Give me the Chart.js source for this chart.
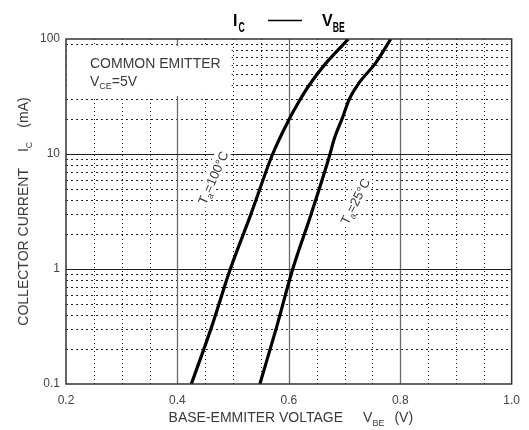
<!DOCTYPE html>
<html>
<head>
<meta charset="utf-8">
<script src="https://cdn.jsdelivr.net/npm/chart.js@4.4.1/dist/chart.umd.min.js"></script>
<style>
  html, body { margin: 0; padding: 0; background: #fff; }
  canvas { display: block; }
</style>
</head>
<body>
<canvas id="icVbe" width="529" height="430"></canvas>
<script>
// Axis ticks
const xTickValues = [0.2, 0.4, 0.6, 0.8, 1.0];
const yTickValues = [0.1, 1, 10, 100];

// Ta = 100°C curve (VBE in V, IC in mA)
const vbeHot = [0.425, 0.460, 0.495, 0.532, 0.571, 0.600, 0.618, 0.637, 0.667, 0.707];
const icHot  = [0.1,   0.3,   1,     3,     10,    19.8,  28.5,  40,    62,    100];

// Ta = 25°C curve
const vbeRoom = [0.548, 0.577, 0.607, 0.640, 0.674, 0.681, 0.697, 0.708, 0.726, 0.756, 0.783];
const icRoom  = [0.1,   0.3,   1,     3,     10,    13.3,  21.1,  29.6,  41.5,  62,    100];

const FONT = '"Liberation Sans", Arial, sans-serif';
const TEXT = '#3a3a3a';

function toPoints(xs, ys){
  return xs.map((v, i) => ({ x: v, y: ys[i] }));
}

// draw a row of text pieces (for subscripts), returns end x
function drawRuns(ctx, runs, x, y){
  let cx = x;
  for (const r of runs){
    ctx.save();
    ctx.font = `${r.bold ? 'bold ' : ''}${r.size}px ${FONT}`;
    const sx = r.sx || 1;
    ctx.translate(cx, y + (r.dy || 0));
    ctx.scale(sx, 1);
    ctx.fillText(r.t, 0, 0);
    cx += ctx.measureText(r.t).width * sx + (r.gap || 0);
    ctx.restore();
  }
  return cx;
}

function runsWidth(ctx, runs){
  let w = 0;
  for (const r of runs){
    ctx.font = `${r.bold ? 'bold ' : ''}${r.size}px ${FONT}`;
    w += ctx.measureText(r.t).width * (r.sx || 1) + (r.gap || 0);
  }
  return w;
}

function hLine(ctx, x1, x2, y){
  ctx.beginPath(); ctx.moveTo(x1, y); ctx.lineTo(x2, y); ctx.stroke();
}
function vLine(ctx, x, y1, y2){
  ctx.beginPath(); ctx.moveTo(x, y1); ctx.lineTo(x, y2); ctx.stroke();
}

const paperGrid = {
  id: 'paperGrid',
  beforeDatasetsDraw(chart){
    const { ctx, chartArea: a, scales: { x, y } } = chart;
    ctx.save();
    ctx.lineWidth = 1;

    // minor verticals every 0.05 V
    ctx.strokeStyle = '#222';
    ctx.setLineDash([1, 3]);
    for (let i = 1; i < 16; i++){
      if (i % 4 === 0) continue;
      const px = Math.round(x.getPixelForValue(0.2 + i * 0.05)) + 0.5;
      vLine(ctx, px, a.top, a.bottom);
    }

    // minor horizontals 2..9 in each decade
    ctx.setLineDash([2, 3]);
    yTickValues.slice(0, -1).forEach(d => {
      for (let m = 2; m <= 9; m++){
        const py = Math.round(y.getPixelForValue(d * m)) + 0.5;
        hLine(ctx, a.left, a.right, py);
      }
    });

    // major lines
    ctx.setLineDash([]);
    ctx.strokeStyle = '#6a6a6a';
    ctx.lineWidth = 1.3;
    xTickValues.slice(1, -1).forEach(v => {
      const px = Math.round(x.getPixelForValue(v)) + 0.5;
      vLine(ctx, px, a.top, a.bottom);
    });
    ctx.strokeStyle = '#222';
    ctx.lineWidth = 1;
    yTickValues.slice(1, -1).forEach(v => {
      const py = Math.round(y.getPixelForValue(v)) + 0.5;
      hLine(ctx, a.left, a.right, py);
    });

    // blank patch behind the conditions note
    ctx.fillStyle = '#fff';
    const bx1 = a.left + 1, bx2 = x.getPixelForValue(0.5) - 1.5;
    const by1 = y.getPixelForValue(87), by2 = y.getPixelForValue(32);
    ctx.fillRect(bx1, by1, bx2 - bx1, by2 - by1);
    ctx.restore();
  },
  afterDraw(chart){
    const { ctx, chartArea: a, scales: { x, y } } = chart;
    ctx.save();

    // frame
    ctx.strokeStyle = '#333';
    ctx.lineWidth = 1.5;
    ctx.strokeRect(a.left, a.top, a.right - a.left, a.bottom - a.top);

    ctx.fillStyle = TEXT;
    ctx.textBaseline = 'alphabetic';

    // conditions note
    drawRuns(ctx, [{ t: 'COMMON EMITTER', size: 14 }], 90, 68);
    drawRuns(ctx, [
      { t: 'V', size: 14 },
      { t: 'CE', size: 9, dy: 3 },
      { t: '=5V', size: 14 }
    ], 90, 86);

    // curve labels, rotated
    const curveLabel = (temp, vx, vy, deg) => {
      const runs = [
        { t: 'T', size: 13 },
        { t: 'a', size: 9, dy: 3 },
        { t: '=' + temp + '°C', size: 13 }
      ];
      const w = runsWidth(ctx, runs);
      ctx.save();
      ctx.translate(x.getPixelForValue(vx), y.getPixelForValue(vy));
      ctx.rotate(deg * Math.PI / 180);
      ctx.fillStyle = '#fff';
      ctx.fillRect(-w / 2 - 2, -9, w + 4, 15);
      ctx.fillStyle = TEXT;
      drawRuns(ctx, runs, -w / 2, 4);
      ctx.restore();
    };
    curveLabel('100', 0.465, 6.2, -66);
    curveLabel('25', 0.720, 3.85, -63);

    // title  I_C —— V_BE
    ctx.fillStyle = '#000';
    drawRuns(ctx, [
      { t: 'I', size: 16, bold: true, gap: 1 },
      { t: 'C', size: 14, bold: true, sx: 0.62, dy: 6 }
    ], 233, 26);
    ctx.strokeStyle = '#000';
    ctx.lineWidth = 1.5;
    hLine(ctx, 268, 302, 20.5);
    drawRuns(ctx, [
      { t: 'V', size: 16, bold: true },
      { t: 'BE', size: 14, bold: true, sx: 0.62, dy: 6 }
    ], 322, 26);

    // x axis title
    ctx.fillStyle = TEXT;
    const xRuns = [
      { t: 'BASE-EMMITER VOLTAGE', size: 14, gap: 20 },
      { t: 'V', size: 14 },
      { t: 'BE', size: 9, dy: 4, gap: 10 },
      { t: '(V)', size: 14 }
    ];
    const xw = runsWidth(ctx, xRuns);
    drawRuns(ctx, xRuns, (a.left + a.right) / 2 - xw / 2 + 2, 422);

    // y axis title
    const yRuns = [
      { t: 'COLLECTOR CURRENT', size: 14, gap: 16 },
      { t: 'I', size: 14 },
      { t: 'C', size: 9, dy: 4, gap: 14 },
      { t: '(mA)', size: 14 }
    ];
    const yw = runsWidth(ctx, yRuns);
    ctx.save();
    ctx.translate(28, (a.top + a.bottom) / 2);
    ctx.rotate(-Math.PI / 2);
    drawRuns(ctx, yRuns, -yw / 2, 0);
    ctx.restore();

    ctx.restore();
  }
};

const curveStyle = {
  showLine: true,
  borderColor: '#000',
  borderWidth: 3.2,
  pointRadius: 0,
  cubicInterpolationMode: 'monotone',
  fill: false
};

new Chart(document.getElementById('icVbe'), {
  type: 'scatter',
  data: {
    datasets: [
      { label: 'Ta=100°C', data: toPoints(vbeHot, icHot), ...curveStyle },
      { label: 'Ta=25°C', data: toPoints(vbeRoom, icRoom), ...curveStyle }
    ]
  },
  options: {
    responsive: false,
    animation: false,
    events: [],
    layout: { padding: { top: 39, right: 11, left: 0, bottom: 0 } },
    plugins: {
      legend: { display: false },
      tooltip: { enabled: false },
      title: { display: false }
    },
    scales: {
      x: {
        type: 'linear',
        min: 0.2,
        max: 1.0,
        afterBuildTicks: s => { s.ticks = xTickValues.map(v => ({ value: v })); },
        afterFit: s => { s.height = 46; },
        grid: { display: false, drawTicks: false },
        border: { display: false },
        ticks: {
          padding: 9,
          color: '#444',
          font: { family: FONT, size: 12 },
          callback: v => Number(v).toFixed(1)
        }
      },
      y: {
        type: 'logarithmic',
        min: 0.1,
        max: 100,
        afterBuildTicks: s => { s.ticks = yTickValues.map(v => ({ value: v })); },
        afterFit: s => { s.width = 66; },
        grid: { display: false, drawTicks: false },
        border: { display: false },
        ticks: {
          padding: 6,
          color: '#444',
          font: { family: FONT, size: 12 },
          callback: v => String(v)
        }
      }
    }
  },
  plugins: [paperGrid]
});
</script>
</body>
</html>
